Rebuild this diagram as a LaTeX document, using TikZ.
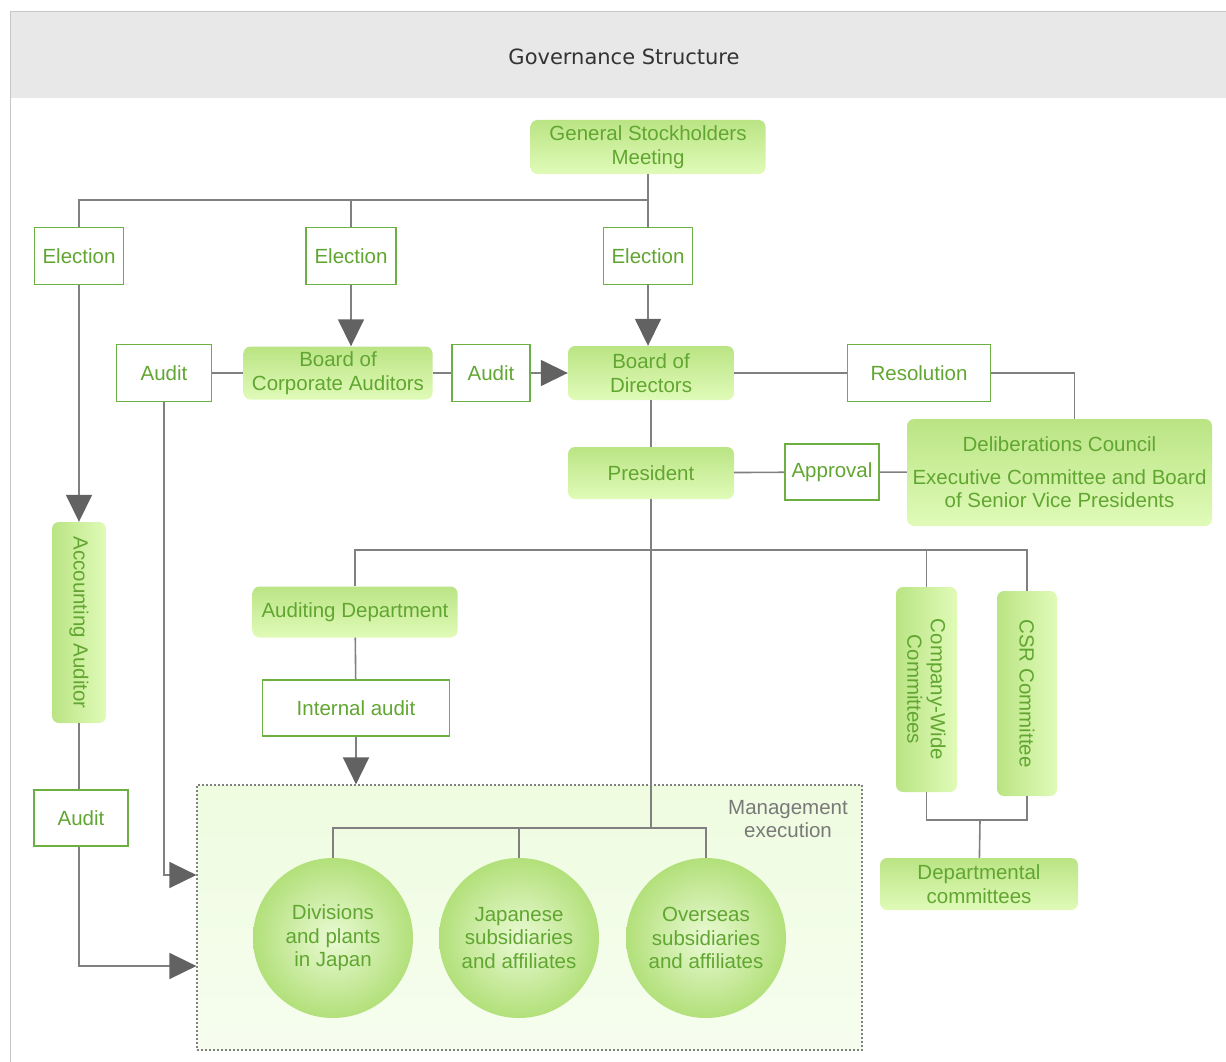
\documentclass[tikz,border=0pt]{standalone}
\usepackage{fontspec}
\setmainfont{Liberation Sans}
\newfontfamily\titlefont{DejaVu Sans}
\usetikzlibrary{shapes.geometric, arrows.meta}
\definecolor{leaf}{RGB}{98,166,50}
\definecolor{leafline}{RGB}{108,176,68}
\definecolor{leaftop}{RGB}{186,228,132}
\definecolor{leafbot}{RGB}{224,251,184}
\definecolor{ballout}{RGB}{178,224,122}
\definecolor{ballin}{RGB}{234,250,212}
\definecolor{wiregray}{RGB}{128,128,128}
\definecolor{tipgray}{RGB}{98,98,98}
\definecolor{pale}{RGB}{240,252,228}
\definecolor{band}{RGB}{232,232,232}
\tikzstyle{body} = [rectangle, rounded corners=7pt, align=center, text=leaf, top color=leaftop, bottom color=leafbot, inner sep=2pt]
\tikzstyle{tallbody} = [rectangle, rounded corners=7pt, align=center, text=leaf, left color=leaftop, right color=leafbot, rotate=-90, inner sep=2pt]
\tikzstyle{tag} = [rectangle, draw=leafline, line width=1.8pt, fill=white, text=leaf, align=center]
\tikzstyle{unit} = [circle, minimum size=160pt, align=center, text=leaf, inner color=ballin, outer color=ballout]
\tikzstyle{wire} = [draw=wiregray, line width=1.6pt]
\tikzstyle{arrow} = [wire, -{Triangle[length=27pt, width=26pt, color=tipgray]}]

\begin{document}
\begin{tikzpicture}[x=1pt, y=-1pt, font=\fontsize{20.5}{23.5}\selectfont]
            \useasboundingbox (0,0) rectangle (1226,1062);
            \fill [band] (10,12) rectangle (1226,98);
            \draw [gray!45, line width=1pt] (10,1062) -- (10,12) -- (1226,12);
            \node [font=\titlefont\fontsize{21}{25}\selectfont, text=black!80] at (624,57) (title) {Governance Structure};

            \node [draw=gray, dash pattern=on 2pt off 2pt, line width=1.2pt, top color=pale!90!leafbot, bottom color=pale!60!white, minimum width=665pt, minimum height=265pt] at (529.5,917.5) (mgmt) {};
            \node [text=gray!95!black, align=center] at (788,819) (mlabel) {Management\\execution};

            \node [body, minimum width=235pt, minimum height=54pt] at (648,147) (gsm) {General Stockholders\\Meeting};
            \node [tag, minimum width=89pt, minimum height=57pt] at (79,256) (elect1) {Election};
            \node [tag, minimum width=90pt, minimum height=57pt] at (351,256) (elect2) {Election};
            \node [tag, minimum width=89pt, minimum height=57pt] at (648,256) (elect3) {Election};
            \node [tag, minimum width=95pt, minimum height=57pt] at (164,373) (audit1) {Audit};
            \node [body, minimum width=189pt, minimum height=53pt] at (338,373) (bca) {Board of\\Corporate Auditors};
            \node [tag, minimum width=78pt, minimum height=57pt] at (491,373) (audit2) {Audit};
            \node [body, minimum width=166pt, minimum height=54pt] at (651,373) (bod) {Board of\\Directors};
            \node [tag, minimum width=143pt, minimum height=57pt] at (919,373) (reso) {Resolution};
            \node [body, minimum width=166pt, minimum height=52pt] at (651,473) (pres) {President};
            \node [tag, minimum width=94pt, minimum height=56pt, inner sep=1pt] at (832,472) (appr) {Approval};
            \node [body, minimum width=305pt, minimum height=107pt] at (1059.5,472.5) (delib) {Deliberations Council\\[9pt]Executive Committee and Board\\of Senior Vice Presidents};
            \node [tallbody, minimum width=201pt, minimum height=54pt] at (79,622.5) (aa) {Accounting Auditor};
            \node [tag, minimum width=94pt, minimum height=56pt] at (81,818) (audit3) {Audit};
            \node [body, minimum width=205pt, minimum height=51pt] at (355,612) (auddept) {Auditing Department};
            \node [tag, minimum width=187pt, minimum height=56pt] at (356,708) (intaud) {Internal audit};
            \node [tallbody, minimum width=205pt, minimum height=61pt] at (926.5,689.5) (cwc) {Company-Wide\\Committees};
            \node [tallbody, minimum width=205pt, minimum height=60pt] at (1027,693.5) (csr) {CSR Committee};
            \node [body, minimum width=198pt, minimum height=52pt] at (979,884) (dept) {Departmental\\committees};
            \node [unit] at (333,938) (div) {Divisions\\and plants\\in Japan};
            \node [unit] at (519,938) (jap) {Japanese\\subsidiaries\\and affiliates};
            \node [unit] at (706,938) (ovs) {Overseas\\subsidiaries\\and affiliates};

            \coordinate (bar1) at (648,200);
            \coordinate (pbar) at (651,550);
            \coordinate (mbar) at (519,828);
            \coordinate (dj) at (980,820);

            \draw [wire] (gsm) -- (bar1) -| (elect1);
            \draw [wire] (bar1 -| elect2) -- (elect2);
            \draw [wire] (bar1) -- (elect3);
            \draw [arrow] (elect1.south) -- (aa.west);
            \draw [arrow] (elect2) -- (elect2 |- bca.north);
            \draw [arrow] (elect3) -- (elect3 |- bod.north);
            \draw [wire] (audit1) -- (bca);
            \draw [wire] (bca) -- (audit2);
            \draw [arrow] (audit2) -- (bod);
            \draw [wire] (bod) -- (reso);
            \draw [wire] (reso.east) -| ([xshift=15pt]delib.north);
            \draw [wire] (bod) -- (pres);
            \draw [wire] (pres) -- (appr);
            \draw [wire] (appr) -- (delib);
            \draw [wire] (pres.south) -- (pres.south |- mbar);
            \draw [wire] (auddept.north) |- (csr.west |- pbar) -- (csr.west);
            \draw [wire] (cwc.west |- pbar) -- (cwc.west);
            \draw [wire] (auddept) -- (intaud);
            \draw [arrow] (intaud) -- (intaud |- mgmt.north);
            \draw [wire] (div.north) -- (div.north |- mbar) -- (ovs.north |- mbar) -- (ovs.north);
            \draw [wire] (jap.north) -- (jap.north |- mbar);
            \draw [wire] (aa.east) -- (aa.east |- audit3.north);
            \draw [arrow] (audit3.south -| aa.east) |- ([yshift=-48.5pt]mgmt.west);
            \draw [arrow] (audit1.south) |- ([yshift=42.5pt]mgmt.west);
            \draw [wire] (cwc.east) |- (dj);
            \draw [wire] (csr.east) |- (dj);
            \draw [wire] (dj) -- (dept);
\end{tikzpicture}
\end{document}
